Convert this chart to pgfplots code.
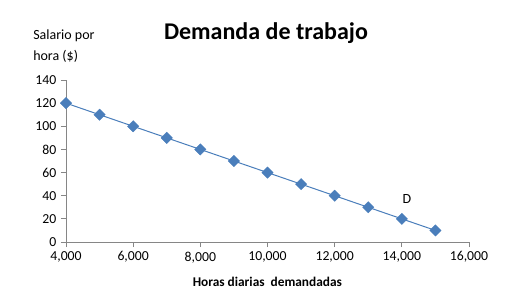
\documentclass[border=0pt]{standalone}
\usepackage{fontspec}
\setmainfont{Carlito}
\usepackage{pgfplots}
\pgfplotsset{compat=1.18}
\definecolor{serie}{RGB}{74,126,187}
\definecolor{axgray}{RGB}{134,134,134}
\begin{document}
\begin{tikzpicture}
\begin{axis}[
  at={(0,0)}, anchor=south west,
  scale only axis,
  width=302.25pt, height=121.5pt,
  xmin=4000, xmax=16000, ymin=0, ymax=140,
  xtick={4000,6000,8000,10000,12000,14000,16000},
  ytick={0,20,40,60,80,100,120,140},
  axis x line*=bottom, axis y line*=left,
  axis line style={axgray, line width=0.6pt},
  tick style={axgray, line width=0.6pt},
  tick align=outside,
  major tick length=3.75pt,
  scaled x ticks=false,
  xticklabel style={/pgf/number format/.cd,1000 sep={,}},
  /pgf/number format/assume math mode=true,
  ticklabel style={font=\fontsize{10.3}{12}\selectfont},
  clip=false,
]
\addplot[color=serie, line width=0.75pt, mark=square*, mark size=3pt,
  mark options={fill=serie, draw=serie, line width=0.3pt, rotate=45}]
coordinates {
(4000,120) (5000,110) (6000,100) (7000,90) (8000,80) (9000,70)
(10000,60) (11000,50) (12000,40) (13000,30) (14000,20) (15000,10)
};
\node[font=\fontsize{10.5}{12}\selectfont] at (axis cs:14150,37) {D};
\end{axis}
\node[font=\fontsize{18}{21}\bfseries\selectfont] at (150pt,156.5pt) {Demanda de trabajo};
\node[font=\fontsize{10.5}{16}\selectfont, align=left, anchor=west, inner sep=0pt] at (-24.75pt,147pt) {Salario por\\hora (\$)};
\node[font=\fontsize{10}{12}\bfseries\selectfont] at (151pt,-30pt) {Horas diarias\ \ demandadas};
\pgfresetboundingbox
\path (-49.5pt,-43.5pt) rectangle (346.5pt,181.5pt);
\end{tikzpicture}
\end{document}
